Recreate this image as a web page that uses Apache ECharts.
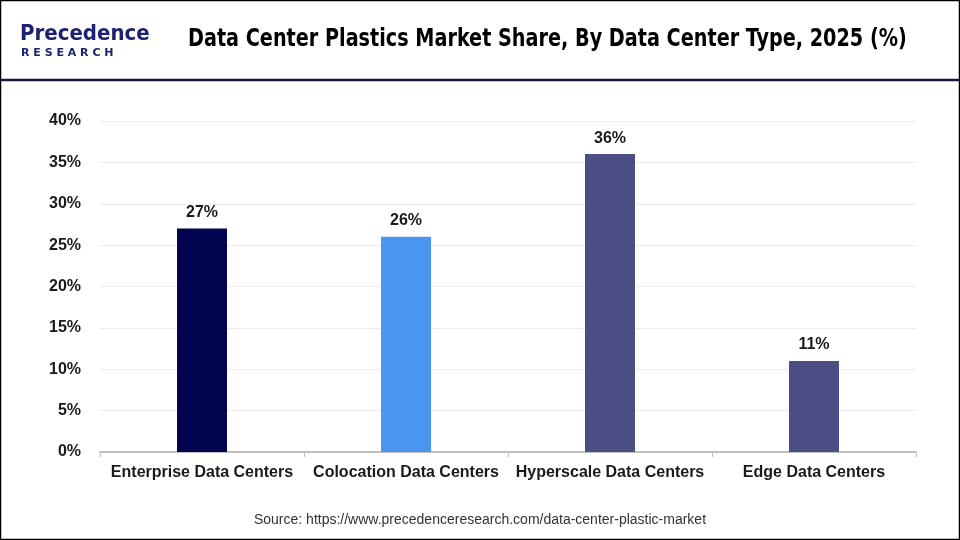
<!DOCTYPE html>
<html>
<head>
<meta charset="utf-8">
<script src="https://cdn.jsdelivr.net/npm/echarts@6/dist/echarts.min.js"></script>
<style>
  html, body { margin: 0; padding: 0; background: #fff; }
  #main { width: 960px; height: 540px; }
</style>
</head>
<body>
<div id="main"></div>
<script>
var categories = ['Enterprise Data Centers', 'Colocation Data Centers', 'Hyperscale Data Centers', 'Edge Data Centers'];
var shares = [27, 26, 36, 11];
var barColors = ['#03044f', '#4a96ef', '#4b4f86', '#4b4f86'];

var chartDom = document.getElementById('main');
var c = echarts.init(chartDom);
var option;

option = {
  animation: false,
  backgroundColor: '#fff',
  grid: { left: 100, right: 44, top: 121, bottom: 88 },
  xAxis: {
    type: 'category',
    data: categories,
    axisLine: { lineStyle: { color: '#bfbfbf', width: 2 } },
    axisTick: { show: true, length: 5, lineStyle: { color: '#bfbfbf' } },
    axisLabel: {
      interval: 0,
      color: '#1a1a1a', fontSize: 16, fontWeight: 'bold',
      fontFamily: 'Liberation Sans, Arial, sans-serif', margin: 13
    }
  },
  yAxis: {
    type: 'value',
    min: 0, max: 40, interval: 5,
    axisLine: { show: false },
    axisTick: { show: false },
    splitLine: { lineStyle: { color: '#ececec', width: 1 } },
    axisLabel: {
      formatter: '{value}%', color: '#1a1a1a', fontSize: 16, fontWeight: 'bold',
      fontFamily: 'Liberation Sans, Arial, sans-serif', margin: 19
    }
  },
  series: [{
    type: 'bar',
    barWidth: 50,
    data: shares.map(function (v, i) {
      return { value: v, itemStyle: { color: barColors[i] } };
    }),
    label: {
      show: true, position: 'top', distance: 8, formatter: '{c}%',
      color: '#1a1a1a', fontSize: 16, fontWeight: 'bold',
      fontFamily: 'Liberation Sans, Arial, sans-serif'
    }
  }],
  graphic: [
    { type: 'rect', shape: { x: 0.5, y: 0.5, width: 959, height: 539 },
      style: { fill: 'none', stroke: '#000', lineWidth: 1.5 }, z: 100 },
    { type: 'line', shape: { x1: 0, y1: 80, x2: 960, y2: 80 },
      style: { stroke: '#14143f', lineWidth: 2.5 } },
    { type: 'text', left: 20, top: 23,
      style: { text: 'Precedence', fill: '#1e2070', font: 'bold 22px "DejaVu Sans Condensed", sans-serif' } },
    { type: 'text', left: 21, top: 48,
      style: { text: 'R E S E A R C H', fill: '#1e2070', font: 'bold 11px "DejaVu Sans", sans-serif' } },
    { type: 'text', x: 188, y: 28, scaleX: 0.89,
      style: { text: 'Data Center Plastics Market Share, By Data Center Type, 2025 (%)', fill: '#000',
        font: 'bold 24px "DejaVu Sans Condensed", "Liberation Sans Narrow", sans-serif' } },
    { type: 'text', left: 'center', top: 513,
      style: { text: 'Source: https://www.precedenceresearch.com/data-center-plastic-market', fill: '#333',
        font: '14px "Liberation Sans", Arial, sans-serif' } }
  ]
};

option && c.setOption(option);
</script>
</body>
</html>
